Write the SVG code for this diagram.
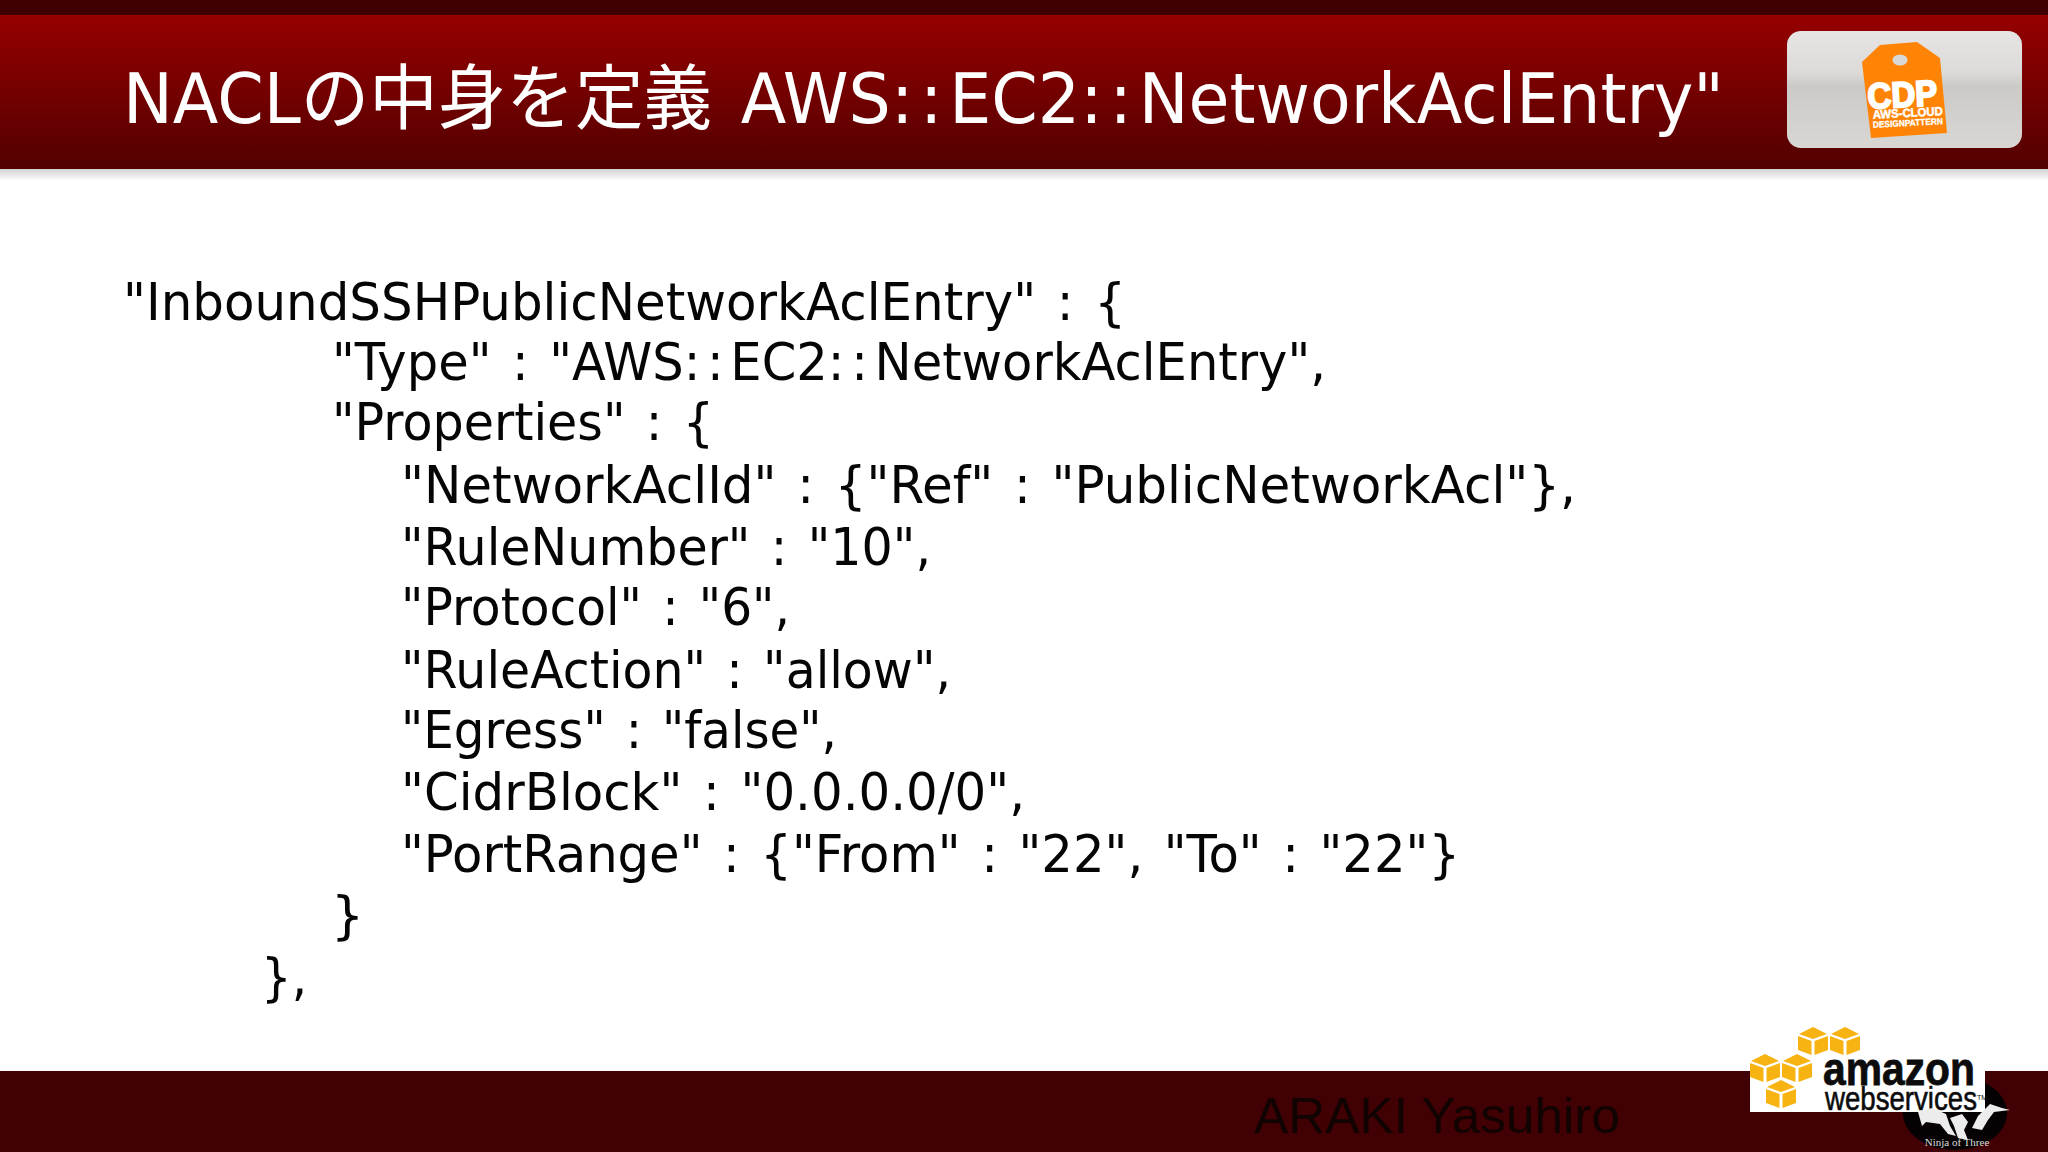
<svg xmlns="http://www.w3.org/2000/svg" width="2048" height="1152" viewBox="0 0 2048 1152">
<style>
.b{font-family:"DejaVu Sans","Noto Sans CJK JP",sans-serif;font-size:52px;fill:#050505;word-spacing:5px}
.t{font-family:"DejaVu Sans","Noto Sans CJK JP",sans-serif;font-size:69px;fill:#fff;word-spacing:8px}
.j{font-size:71px}
.c{letter-spacing:7px}
.l{font-family:"Liberation Sans",sans-serif;font-weight:700}
</style>
<defs>
<linearGradient id="hd" x1="0" y1="0" x2="0" y2="1"><stop offset="0" stop-color="#960000"/><stop offset="1" stop-color="#520000"/></linearGradient>
<linearGradient id="sh" x1="0" y1="0" x2="0" y2="1"><stop offset="0" stop-color="#d2d2d2"/><stop offset="1" stop-color="#fff"/></linearGradient>
<linearGradient id="gl" x1="0" y1="0" x2="0" y2="1"><stop offset="0" stop-color="#e6e5e3"/><stop offset=".35" stop-color="#dcdbd9"/><stop offset=".47" stop-color="#cbcac6"/><stop offset="1" stop-color="#d8d7d4"/></linearGradient>
<g id="cube" fill="#f6b312"><path d="M1 7L15 0L29 7L15 12Z"/><path d="M0 9L13.5 14V28L0 23Z"/><path d="M16.500 14L30 9V23L16.500 28Z"/></g>
</defs>
<rect width="2048" height="1152" fill="#fff"/>
<rect width="2048" height="15" fill="#3f0003"/>
<rect y="15" width="2048" height="154" fill="url(#hd)"/>
<rect y="169" width="2048" height="12" fill="url(#sh)"/>
<rect y="1071" width="2048" height="81" fill="#410003"/>
<text class="t" x="123" y="123" textLength="1601" lengthAdjust="spacingAndGlyphs">NACL<tspan class="j">の中身を定義</tspan> AWS<tspan class="c">::</tspan>EC2<tspan class="c">::</tspan>NetworkAclEntry"</text>
<g id="cdp">
<rect x="1787" y="31" width="235" height="117" rx="14" fill="url(#gl)"/>
<path d="M1862 62L1880 45L1917 42L1940 58L1947 133L1871 138Z" fill="#ff8405"/>
<ellipse cx="1900" cy="60" rx="7.500" ry="5.500" fill="#d9d8d6"/>
<g class="l" fill="#fff" text-anchor="middle">
<text x="1903" y="107" font-size="36" stroke="#fff" stroke-width="2" textLength="70" lengthAdjust="spacingAndGlyphs" transform="rotate(-3 1903 107)">CDP</text>
<text x="1908" y="117" font-size="12" stroke="#fff" stroke-width=".5" textLength="70" lengthAdjust="spacingAndGlyphs" transform="rotate(-3 1908 117)">AWS-CLOUD</text>
<text x="1908" y="126" font-size="9" stroke="#fff" stroke-width=".3" textLength="70" lengthAdjust="spacingAndGlyphs" transform="rotate(-3 1908 126)">DESIGNPATTERN</text>
</g>
</g>
<g id="code">
<text class="b" x="123" y="320" textLength="1003" lengthAdjust="spacingAndGlyphs">"InboundSSHPublicNetworkAclEntry" : {</text>
<text class="b" x="332" y="380" textLength="994" lengthAdjust="spacingAndGlyphs">"Type" : "AWS<tspan class="c">::</tspan>EC2<tspan class="c">::</tspan>NetworkAclEntry",</text>
<text class="b" x="332" y="440" textLength="382" lengthAdjust="spacingAndGlyphs">"Properties" : {</text>
<text class="b" x="401" y="503" textLength="1175" lengthAdjust="spacingAndGlyphs">"NetworkAclId" : {"Ref" : "PublicNetworkAcl"},</text>
<text class="b" x="401" y="565" textLength="530" lengthAdjust="spacingAndGlyphs">"RuleNumber" : "10",</text>
<text class="b" x="401" y="625" textLength="389" lengthAdjust="spacingAndGlyphs">"Protocol" : "6",</text>
<text class="b" x="401" y="688" textLength="550" lengthAdjust="spacingAndGlyphs">"RuleAction" : "allow",</text>
<text class="b" x="401" y="748" textLength="436" lengthAdjust="spacingAndGlyphs">"Egress" : "false",</text>
<text class="b" x="401" y="810" textLength="624" lengthAdjust="spacingAndGlyphs">"CidrBlock" : "0.0.0.0/0",</text>
<text class="b" x="401" y="872" textLength="1059" lengthAdjust="spacingAndGlyphs">"PortRange" : {"From" : "22", "To" : "22"}</text>
<text class="b" x="331" y="933">}</text>
<text class="b" x="261" y="995" textLength="46" lengthAdjust="spacingAndGlyphs">},</text>
</g>
<text x="1254" y="1133" font-family="Liberation Sans,sans-serif" font-size="50" fill="#120303" textLength="366" lengthAdjust="spacingAndGlyphs">ARAKI Yasuhiro</text>
<g id="aws">
<ellipse cx="1955" cy="1113" rx="52" ry="37" fill="#060203"/>
<rect x="1750" y="1071" width="235" height="41" fill="#fff"/>
<use href="#cube" x="1798" y="1027"/><use href="#cube" x="1830" y="1027"/>
<use href="#cube" x="1750" y="1054"/><use href="#cube" x="1782" y="1054"/>
<use href="#cube" x="1766" y="1080"/>
<text class="l" x="1823" y="1085" font-size="47" fill="#0c0c0c" stroke="#0c0c0c" stroke-width=".8" textLength="152" lengthAdjust="spacingAndGlyphs">amazon</text>
<text x="1825" y="1110" font-family="Liberation Sans,sans-serif" font-size="34" fill="#0c0c0c" stroke="#0c0c0c" stroke-width=".6" textLength="152" lengthAdjust="spacingAndGlyphs">webservices</text>
<text x="1977" y="1100" font-family="Liberation Sans,sans-serif" font-size="7" fill="#0c0c0c">TM</text>
<g fill="#ececec">
<path d="M1918 1112L1932 1108L1946 1114L1950 1126L1956 1136L1948 1134L1940 1124L1926 1122L1922 1126Z"/>
<path d="M1950 1118L1962 1114L1968 1122L1964 1130L1968 1140L1958 1138L1954 1126Z"/>
<path d="M1972 1128L1978 1116L1990 1104L2002 1108L2010 1110L1994 1112L1988 1120L1982 1130Z"/>
</g>
<text x="1957" y="1146" text-anchor="middle" font-family="Liberation Serif,serif" font-size="11" fill="#ddd">Ninja of Three</text>
</g>
</svg>
